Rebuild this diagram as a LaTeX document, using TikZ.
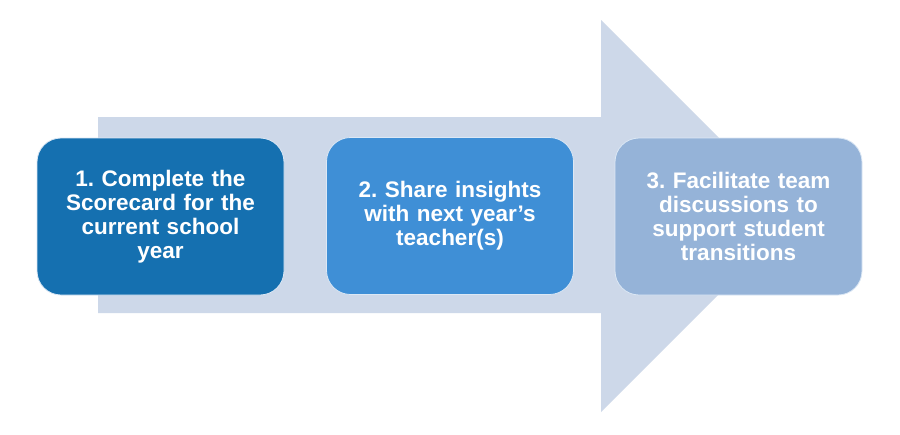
\documentclass[tikz,border=0pt]{standalone}
\usepackage{fontspec}
\setmainfont{Liberation Sans}
\frenchspacing
\definecolor{arrowfill}{HTML}{CDD8E9}
\definecolor{boxa}{HTML}{1570B0}
\definecolor{boxb}{HTML}{3F8FD6}
\definecolor{boxc}{HTML}{95B3D8}
\definecolor{boxedge}{HTML}{DCE8F5}
\begin{document}
\begin{tikzpicture}[x=1pt,y=-1pt,
  stepbox/.style={rounded corners=24pt, draw=boxedge, line width=0.8pt,
    minimum width=247pt, minimum height=157pt, inner sep=0pt,
    text=white, align=center, text width=235pt,
    font=\fontsize{22.5}{24}\selectfont\bfseries}]
\useasboundingbox (0,0) rectangle (900,434);
\fill[white] (0,0) rectangle (900,434);
\fill[arrowfill] (98,117) -- (601,117) -- (601,20) -- (797,216) -- (601,412) -- (601,313) -- (98,313) -- cycle;
\node[stepbox, fill=boxa] (s1) at (160.5,216.5) {1. Complete the\\Scorecard for the\\current school\\year};
\node[stepbox, fill=boxb] (s2) at (450,216) {2. Share insights\\with next year’s\\teacher(s)};
\node[stepbox, fill=boxc] (s3) at (738.5,216.5) {3. Facilitate team\\discussions to\\support student\\transitions};
\end{tikzpicture}
\end{document}
